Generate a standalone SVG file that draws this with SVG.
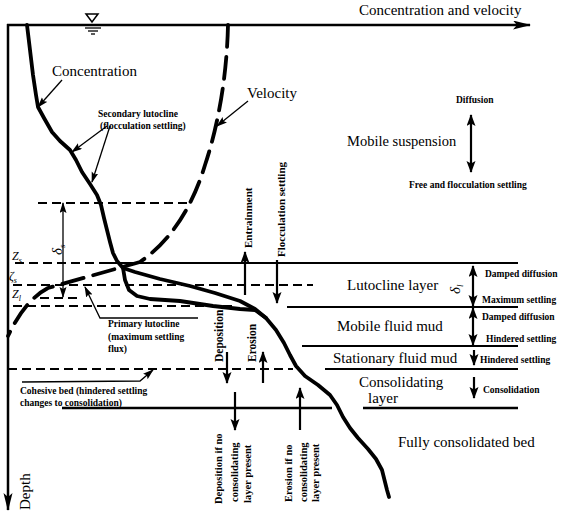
<svg xmlns="http://www.w3.org/2000/svg" width="564" height="513" viewBox="0 0 564 513">
<defs>
<marker id="ah" markerUnits="userSpaceOnUse" markerWidth="12" markerHeight="10" refX="11" refY="4.5" orient="auto-start-reverse"><path d="M0,0 L12,4.5 L0,9 L2.5,4.5 z" fill="#000"/></marker>
<marker id="ahs" markerUnits="userSpaceOnUse" markerWidth="11" markerHeight="8" refX="10" refY="3.5" orient="auto-start-reverse"><path d="M0,0 L11,3.5 L0,7 L2,3.5 z" fill="#000"/></marker>
<marker id="ahx" markerUnits="userSpaceOnUse" markerWidth="18" markerHeight="10" refX="17" refY="4.5" orient="auto"><path d="M0,0 L18,4.5 L0,9 L4,4.5 z" fill="#000"/></marker>
</defs>
<style>
.ax{stroke:#000;stroke-width:2.5;fill:none}
.th{stroke:#000;stroke-width:2.2;fill:none}
.tn{stroke:#000;stroke-width:1.3;fill:none}
.ds{stroke:#000;stroke-width:1.8;stroke-dasharray:9 5;fill:none}
.ln{stroke:#000;stroke-width:1.8;fill:none}
.cv{stroke:#000;stroke-width:3.8;fill:none;stroke-linejoin:round;stroke-linecap:round}
</style>

<g id="axes">
<line class="ax" x1="8" y1="24" x2="8" y2="510" marker-end="url(#ahx)"/>
<line class="ax" x1="7" y1="25" x2="530" y2="25" marker-end="url(#ahx)"/>
<text font-family="Liberation Serif" font-size="15" x="359" y="15">Concentration and velocity</text>
<text font-family="Liberation Serif" font-size="15" transform="translate(30,510) rotate(-90)">Depth</text>
</g>

<g id="water-surface">
<path d="M86,14 L98,14 L92,22 z" fill="none" stroke="#000" stroke-width="1.5"/>
<line class="tn" x1="85" y1="28" x2="101" y2="28"/>
<line class="tn" x1="88" y1="31" x2="98" y2="31"/>
<line class="tn" x1="91" y1="34" x2="95" y2="34"/>
</g>

<g id="curves">
<path class="cv" d="M228,25 C227,70 220,120 205,165 C193,205 172,240 140,262 L48,288 Q25,300 8,336" stroke-dasharray="22 10" stroke-linecap="butt"/>
<polyline class="cv" points="27,25 30,50 33,75 36,95 38,107 44,118 52,132 60,141 70,150 76,160 82,172 90,184 97,195 101,205 104,218 107,230 110,242 113,253 117,261 123,268 135,272 160,279 190,286 215,293 240,301 255,309 266,318 276,330 284,343 290,355 296,366 305,376 318,385 330,395 337,405 343,417 350,428 358,438 368,449 376,459 382,470 385,482 387,490 389,497"/>
<polyline class="cv" points="123,268 125,280 129,290 137,296 150,299 180,301 213,306 240,309 255,310 266,318"/>
</g>

<g id="layer-lines">
<line class="ds" x1="38" y1="203" x2="190" y2="203"/>
<line class="ds" x1="15" y1="263" x2="108" y2="263"/>
<line class="ln" x1="108" y1="263" x2="518" y2="263" stroke-width="1.5"/>
<line class="ds" x1="13" y1="285" x2="313" y2="285"/>
<line class="ds" x1="40" y1="298" x2="80" y2="298"/>
<line class="ds" x1="13" y1="306" x2="235" y2="306"/>
<line class="ln" x1="287" y1="307" x2="518" y2="307"/>
<line class="ln" x1="302" y1="346" x2="518" y2="346"/>
<line class="ds" x1="8" y1="369" x2="293" y2="369"/>
<line class="ln" x1="325" y1="369" x2="518" y2="369"/>
<line class="ax" x1="62" y1="408" x2="332" y2="408"/>
<line class="ax" x1="363" y1="408" x2="518" y2="408"/>
</g>

<g id="connectors">
<line class="tn" x1="62" y1="80" x2="38" y2="107" marker-end="url(#ahs)"/>
<line class="tn" x1="248" y1="101" x2="217" y2="126" marker-end="url(#ahs)"/>
<line class="tn" x1="107" y1="126" x2="72" y2="152" marker-end="url(#ahs)"/>
<line class="tn" x1="110" y1="126" x2="92" y2="182" marker-end="url(#ahs)"/>
<polyline class="tn" points="198,318 100,318 85,287" marker-end="url(#ahs)"/>
<polyline class="tn" points="22,382 140,381 153,370" marker-end="url(#ahs)"/>
<line class="tn" x1="63" y1="203" x2="63" y2="297" marker-start="url(#ahs)" marker-end="url(#ahs)"/>
<line class="th" x1="471" y1="115" x2="471" y2="172" marker-start="url(#ah)" marker-end="url(#ah)"/>
<line class="th" x1="473" y1="266" x2="473" y2="306" marker-start="url(#ah)" marker-end="url(#ah)"/>
<line class="th" x1="473" y1="308" x2="473" y2="345" marker-start="url(#ah)" marker-end="url(#ah)"/>
<line class="th" x1="474" y1="350" x2="474" y2="365" marker-end="url(#ah)"/>
<line class="th" x1="474" y1="377" x2="474" y2="398" marker-end="url(#ah)"/>
<line class="th" x1="245" y1="295" x2="245" y2="252" marker-end="url(#ah)"/>
<line class="th" x1="277" y1="260" x2="277" y2="303" marker-end="url(#ah)"/>
<line class="th" x1="227" y1="352" x2="227" y2="383" marker-end="url(#ah)"/>
<line class="th" x1="263" y1="383" x2="263" y2="352" marker-end="url(#ah)"/>
<line class="th" x1="235" y1="392" x2="235" y2="430" marker-end="url(#ah)"/>
<line class="th" x1="300" y1="430" x2="300" y2="388" marker-end="url(#ah)"/>
</g>

<g id="curve-labels">
<text font-family="Liberation Serif" font-size="15" x="52" y="76">Concentration</text>
<text font-family="Liberation Serif" font-size="15" x="247" y="98">Velocity</text>
<text font-family="Liberation Serif" font-size="9.5" font-weight="bold" x="98" y="117">Secondary lutocline</text>
<text font-family="Liberation Serif" font-size="9.5" font-weight="bold" x="100" y="129">(flocculation settling)</text>
<text font-family="Liberation Serif" font-size="9.5" font-weight="bold" x="108" y="327">Primary lutocline</text>
<text font-family="Liberation Serif" font-size="9.5" font-weight="bold" x="108" y="340">(maximum settling</text>
<text font-family="Liberation Serif" font-size="9.5" font-weight="bold" x="108" y="352">flux)</text>
<text font-family="Liberation Serif" font-size="9.5" font-weight="bold" x="20" y="394">Cohesive bed (hindered settling</text>
<text font-family="Liberation Serif" font-size="9.5" font-weight="bold" x="20" y="406">changes to consolidation)</text>
</g>

<g id="level-labels">
<text font-family="Liberation Serif" font-size="12" font-style="italic" x="12" y="260">Z<tspan font-size="8" dy="3">s</tspan></text>
<text font-family="Liberation Serif" font-size="12" font-style="italic" x="9" y="280">ζ<tspan font-size="8" dy="3">s</tspan></text>
<text font-family="Liberation Serif" font-size="12" font-style="italic" x="12" y="298">Z<tspan font-size="8" dy="3">l</tspan></text>
<text font-family="Liberation Serif" font-size="15" font-style="italic" transform="translate(62,255) rotate(-90)">δ<tspan font-size="9" dy="3">s</tspan></text>
<text font-family="Liberation Serif" font-size="15" font-style="italic" transform="translate(460,294) rotate(-90)">δ<tspan font-size="9" dy="3">l</tspan></text>
</g>

<g id="mobile-suspension">
<text font-family="Liberation Serif" font-size="14.5" x="347" y="146">Mobile suspension</text>
<text font-family="Liberation Serif" font-size="9.5" font-weight="bold" x="456" y="103">Diffusion</text>
<text font-family="Liberation Serif" font-size="9.5" font-weight="bold" x="409" y="188">Free and flocculation settling</text>
</g>

<g id="lutocline-layer">
<text font-family="Liberation Serif" font-size="15" x="347" y="290">Lutocline layer</text>
<text font-family="Liberation Serif" font-size="9.5" font-weight="bold" x="485" y="277">Damped diffusion</text>
<text font-family="Liberation Serif" font-size="9.5" font-weight="bold" x="482" y="303">Maximum settling</text>
</g>

<g id="mobile-fluid-mud">
<text font-family="Liberation Serif" font-size="15" x="337" y="331">Mobile fluid mud</text>
<text font-family="Liberation Serif" font-size="9.5" font-weight="bold" x="482" y="320">Damped diffusion</text>
<text font-family="Liberation Serif" font-size="9.5" font-weight="bold" x="486" y="342">Hindered settling</text>
</g>

<g id="stationary-fluid-mud">
<text font-family="Liberation Serif" font-size="15" x="333" y="363">Stationary fluid mud</text>
<text font-family="Liberation Serif" font-size="9.5" font-weight="bold" x="480" y="363">Hindered settling</text>
</g>

<g id="consolidating-layer">
<text font-family="Liberation Serif" font-size="15" x="359" y="387">Consolidating</text>
<text font-family="Liberation Serif" font-size="15" x="368" y="403">layer</text>
<text font-family="Liberation Serif" font-size="9.5" font-weight="bold" x="483" y="393">Consolidation</text>
</g>

<g id="consolidated-bed">
<text font-family="Liberation Serif" font-size="15" x="398" y="447">Fully consolidated bed</text>
</g>

<g id="flux-labels">
<text font-family="Liberation Serif" font-size="11" font-weight="bold" transform="translate(252,248) rotate(-90)">Entrainment</text>
<text font-family="Liberation Serif" font-size="11" font-weight="bold" transform="translate(285,257) rotate(-90)">Flocculation settling</text>
<text font-family="Liberation Serif" font-size="11.5" font-weight="bold" transform="translate(223,362) rotate(-90)">Deposition</text>
<text font-family="Liberation Serif" font-size="11.5" font-weight="bold" transform="translate(256,362) rotate(-90)">Erosion</text>
<text font-family="Liberation Serif" font-size="10.5" font-weight="bold" transform="translate(222,504) rotate(-90)">Deposition if no</text>
<text font-family="Liberation Serif" font-size="10.5" font-weight="bold" transform="translate(238,502) rotate(-90)">consolidating</text>
<text font-family="Liberation Serif" font-size="10.5" font-weight="bold" transform="translate(251,503) rotate(-90)">layer present</text>
<text font-family="Liberation Serif" font-size="10.5" font-weight="bold" transform="translate(292,502) rotate(-90)">Erosion if no</text>
<text font-family="Liberation Serif" font-size="10.5" font-weight="bold" transform="translate(307,502) rotate(-90)">consolidating</text>
<text font-family="Liberation Serif" font-size="10.5" font-weight="bold" transform="translate(319,502) rotate(-90)">layer present</text>
</g>
</svg>
